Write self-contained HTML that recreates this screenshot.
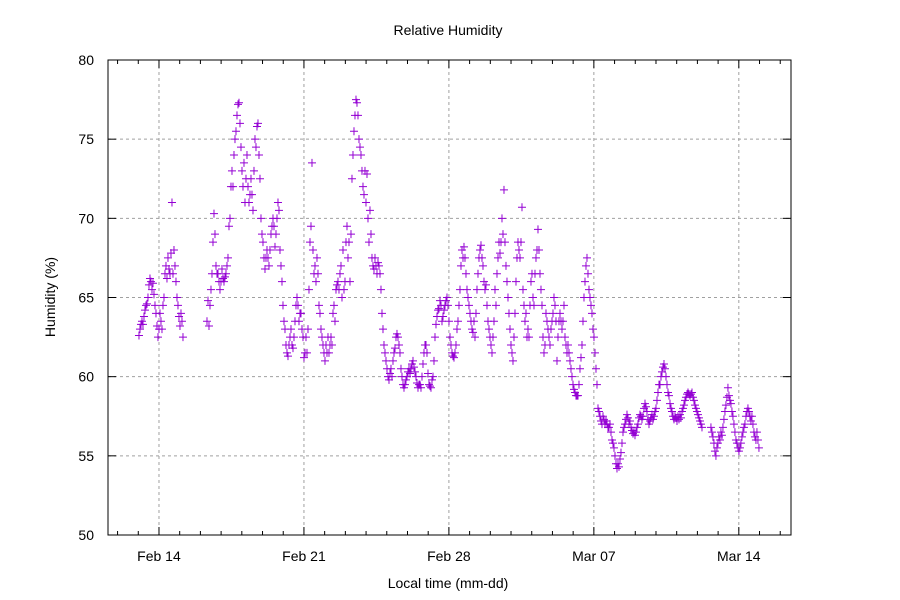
<!DOCTYPE html>
<html><head><meta charset="utf-8"><title>Relative Humidity</title>
<style>
html,body{margin:0;padding:0;background:#fff;}
svg{display:block;font-family:"Liberation Sans",Arial,sans-serif;}
</style></head>
<body>
<svg id="chart" width="900" height="600" viewBox="0 0 900 600">
<rect x="0" y="0" width="900" height="600" fill="#fff"/>
<g id="grid"></g>
<g id="ticks"></g>
<g id="points"></g>
<rect x="108" y="60" width="683" height="475" fill="none" stroke="#000" stroke-width="1"/>
<g id="labels"></g>
<text x="448" y="35" font-size="14" text-anchor="middle" fill="#000">Relative Humidity</text>
<text x="448" y="588" font-size="14" text-anchor="middle" fill="#000">Local time (mm-dd)</text>
<text x="55" y="297" font-size="14" text-anchor="middle" fill="#000" transform="rotate(-90 55 297)">Humidity (%)</text>
</svg>
<script>
const xTickLabels = ["Feb 14","Feb 21","Feb 28","Mar 07","Mar 14"];
const xTickDays = [0,7,14,21,28];
const yTicks = [50,55,60,65,70,75,80];
const segStarts = [-0.966, 2.318, 26.654];
const stepDays = 0.04829;
const seg1Values = [62.6,63.0,63.3,63.5,63.3,63.8,64.2,64.5,64.6,65.0,65.8,66.2,66.0,65.5,65.9,65.2,64.5,64.0,63.2,62.5,63.0,64.0,63.5,63.0,64.5,65.0,66.5,67.0,66.2,67.5,66.8,66.5,67.8,71.0,66.5,68.0,67.0,66.0,65.0,64.5,63.8,63.2,64.0,63.5,62.5];
const seg2Values = [
63.5,64.8,63.2,64.5,65.5,66.5,68.5,70.3,69,67,
66.5,66.5,66,65.5,66,66.8,66.2,66,66.3,66.5,
67,67.5,69.5,70,72,73,72,74,75,75.5,
76.5,77.2,77.3,76,74.5,73,72,73.5,71,72.5,
74,72,71,71.5,72.5,71.5,70.5,73,75,74.5,
75.8,76,74,72.5,70,69,68.5,67.5,66.8,67.5,
68,67.5,67,68,69,69.5,70,69.5,68.2,69,
70,71,70.5,68,67,66,64.5,63.5,63,62,
61.5,61.3,62,62.5,63,62,61.8,62.5,63.5,64.5,
65,64.5,63.5,64,64,63,62.5,61.2,61.5,62.5,
61.5,63,65.5,68.5,69.5,73.5,68,66.5,67,66,
67.5,66.5,64.5,64,63,62.5,62,61.5,61,62,
61.5,62.5,61.5,62,62.5,62,64,64.5,63.5,65.5,
65.8,66,65.5,66.5,67,65,68,65.5,66,68.5,
69.5,67.5,68.5,66,69,72.5,74,75.5,76.5,77.5,
77.3,76.5,75,74.5,74,73,72,71.5,73,71,
72.8,70,68.5,70.5,69,67.5,67,66.8,67.5,67,
66.5,67.2,67,66.5,65.5,64,63,62,61.5,61,
60.5,60,59.8,60.2,60.5,60,61,61.5,61.8,62.5,
62.7,62.5,62,61.5,60.5,60,59.5,59.3,59.5,59.8,
60,60.3,60.5,60.2,60.5,60.8,61,60.6,60.3,60,
59.6,59.3,59.5,59.5,59.3,60,60.8,61.5,62,62,
61.5,60.2,59.5,59.4,59.3,59.8,60,61,62.5,63.3,
63.8,64.2,64.3,64.8,64.5,63.5,63.8,64.2,64.5,64.8,
65,64.5,63.5,62.5,62,61.5,61.3,61.2,61.5,62,
63,63.5,64.5,65.5,67,68,67.5,68.2,67.5,66.5,
65.5,65,64.5,64,63.5,63,62.8,63.5,62.5,64,
65.5,66.5,67.5,68,68.3,67.5,67,66,65.5,65.8,
64.5,63.5,63,62.5,62,61.5,62.5,63.5,65.5,64.5,
66.5,67.5,68.5,67.8,68.5,70,69,71.8,68.5,67,
66,65,64,63,62,61.5,61,62.5,64,66,
67.5,68.5,68,67.5,68.5,70.7,65.5,64.5,63.5,64,
62.5,63,62.5,64.5,66,66.5,65,64.5,66.5,67.5,
68,69.3,68,66.5,65.5,64.5,62.5,61.5,62,64,
63.5,63,62.5,62,63,63.5,64,65,64.5,63.5,
61,62.5,63.5,64,63.5,63,63.5,64.5,62.5,62,
61.5,62,61.5,61,60.5,60,59.5,59.2,59,58.8,
58.8,58.8,59.5,60.5,61.2,62,63.5,65,66,67,
67.5,66.5,65.5,65,64.5,64,63,62.5,61.5,60.5,
59.5,58,57.8,57.5,57.2,57,57.5,57.3,57,57.2,
57,56.8,56.8,57,56.5,56,55.8,55.5,55,54.5,
54.2,54.5,54.3,54.8,55.2,55.8,56.5,56.8,57,57.3,
57.6,57.4,57,57.2,56.8,56.6,56.4,56.5,56.3,56.5,
56.8,57,57.4,57.6,57.5,57.3,57.5,58,58.3,58.1,
57.8,57.3,57,57.2,57.4,57.6,57.3,57.5,57.8,58,
58.5,59,59.5,59.5,60,60.3,60.6,60.8,60.5,60,
59.5,59,58.8,58.3,58,57.8,57.5,57.3,57.5,57.4,
57.2,57.5,57.3,57.6,57.4,57.8,58,58.2,58.5,58.7,
58.9,59,58.9,58.8,58.9,59,58.7,58.5,58.2,58,
57.8,57.6,57.4,57.2,57,56.8];
const seg3Values = [56.8,56.5,56.2,55.8,55.3,55,55.5,55.8,56.2,56,
56.5,56.3,56.8,57.3,57.8,58.2,58.7,59.3,58.8,58.5,
58.3,57.8,57.5,57,56.5,56,55.8,55.5,55.3,55.5,
55.8,56.2,56.5,56.8,57,57.5,57.8,58,57.8,57.5,
57.2,57.5,57,56.5,56.2,56,56.5,56,55.5];

const PL=108, PR=791, PT=60, PB=535;
const xMin=-2.462, xMax=30.52, yMin=50, yMax=80;
function xs(d){return PL+(d-xMin)/(xMax-xMin)*(PR-PL);}
function ys(v){return PB-(v-yMin)/(yMax-yMin)*(PB-PT);}
const NS="http://www.w3.org/2000/svg";
const grid=document.getElementById('grid'), ticks=document.getElementById('ticks'), labels=document.getElementById('labels'), pts=document.getElementById('points');
function mk(tag,attrs,parent){const e=document.createElementNS(NS,tag);for(const k in attrs)e.setAttribute(k,attrs[k]);parent.appendChild(e);return e;}

yTicks.forEach((v,i)=>{
  const y=ys(v);
  if(i>0&&i<yTicks.length-1){
    const g=mk('line',{x1:PL,x2:PR,y1:y,y2:y,stroke:'#a0a0a0','stroke-dasharray':'3,3','stroke-width':1},grid);
    
    
  }
  const t1=mk('line',{x1:PL,x2:PL+8,y1:y,y2:y,stroke:'#000'},ticks);
  
  
  const t2=mk('line',{x1:PR-8,x2:PR,y1:y,y2:y,stroke:'#000'},ticks);
  
  
  const l=mk('text',{x:94,y:y+5,'font-size':14,'text-anchor':'end',fill:'#000'},labels);
  l.textContent=v;
  
  
});
for(let d=Math.ceil(xMin);d<=Math.floor(xMax);d++){
  const x=xs(d);
  const major=xTickDays.indexOf(d)>=0;
  const len=major?8:4;
  const a=mk('line',{x1:x,x2:x,y1:PB,y2:PB-len,stroke:'#000'},ticks);
  
  
  const b=mk('line',{x1:x,x2:x,y1:PT,y2:PT+len,stroke:'#000'},ticks);
  
  
}
xTickDays.forEach((d,i)=>{
  const x=xs(d);
  const g=mk('line',{x1:x,x2:x,y1:PT,y2:PB,stroke:'#a0a0a0','stroke-dasharray':'3,3','stroke-width':1},grid);
  
  
  const l=mk('text',{x:x,y:561,'font-size':14,'text-anchor':'middle',fill:'#000'},labels);
  l.textContent=xTickLabels[i];
  
  
});
const segs=[seg1Values,seg2Values,seg3Values];
segs.forEach((vals,s)=>{
  vals.forEach((v,i)=>{
    const d=segStarts[s]+i*stepDays;
    const x=xs(d), y=ys(v);
    const p=mk('path',{d:`M${x-4},${y}h8M${x},${y-4}v8`,stroke:'#9400d3','stroke-width':1,fill:'none'},pts);
    
    
  });
});
</script>
</body></html>
